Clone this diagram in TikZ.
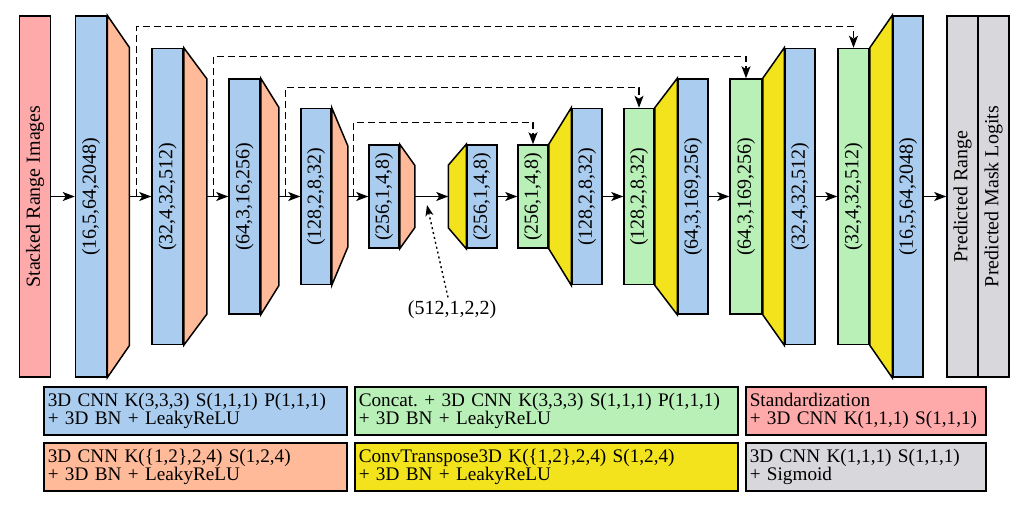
\documentclass[tikz,border=0pt]{standalone}
\usepackage{fontspec}
\setmainfont{Liberation Serif}
\usetikzlibrary{arrows.meta}
\frenchspacing

\definecolor{cblue}{HTML}{AACCEE}
\definecolor{corange}{HTML}{FFBB99}
\definecolor{cyellow}{HTML}{F2E31C}
\definecolor{cgreen}{HTML}{B8F0B8}
\definecolor{cpink}{HTML}{FFAAAA}
\definecolor{cgray}{HTML}{D8D8DC}

\tikzset{
  blk/.style={draw, line width=1.5pt, inner sep=0pt, minimum width=31pt},
  trap/.style={draw, line width=1.5pt, line join=miter},
  flow/.style={line width=1.3pt, -{Stealth[length=12pt,width=9pt,inset=3pt]}},
  skipline/.style={flow, dash pattern=on 7pt off 4pt},
  legend/.style={draw, line width=1.5pt, align=left, anchor=north west,
    inner xsep=4pt, inner ysep=3pt, minimum height=48pt,
    font=\fontsize{19.2}{18}\selectfont},
}

\begin{document}
\begin{tikzpicture}[x=1pt, y=-1pt, font=\fontsize{20}{18}\selectfont]
    \useasboundingbox (0,0) rectangle (1030,505);

    % input
    \node[blk, fill=cpink, minimum height=361pt] (in) at (35,196.5) {\rotatebox{90}{Stacked Range Images}};

    % encoder: blue block + orange down-sampling trapezoid
    \node[blk, fill=cblue, minimum height=361pt] (e1) at (91,196.5) {\rotatebox{90}{(16,5,64,2048)}};
    \draw[trap, fill=corange] (e1.north east) -- ++(22,32) -- ([shift={(22,-32)}]e1.south east) -- (e1.south east) -- cycle;
    \coordinate (t1) at ([xshift=22pt]e1.east);

    \node[blk, fill=cblue, minimum height=296pt] (e2) at (167.5,196.5) {\rotatebox{90}{(32,4,32,512)}};
    \draw[trap, fill=corange] (e2.north east) -- ++(23,31) -- ([shift={(23,-31)}]e2.south east) -- (e2.south east) -- cycle;
    \coordinate (t2) at ([xshift=23pt]e2.east);

    \node[blk, fill=cblue, minimum height=235pt] (e3) at (244.5,196.5) {\rotatebox{90}{(64,3,16,256)}};
    \draw[trap, fill=corange] (e3.north east) -- ++(18,29) -- ([shift={(18,-29)}]e3.south east) -- (e3.south east) -- cycle;
    \coordinate (t3) at ([xshift=18pt]e3.east);

    \node[blk, fill=cblue, minimum height=176pt, minimum width=30pt] (e4) at (316,196.5) {\rotatebox{90}{(128,2,8,32)}};
    \draw[trap, fill=corange] (e4.north east) -- ++(16,38) -- ([shift={(16,-38)}]e4.south east) -- (e4.south east) -- cycle;
    \coordinate (t4) at ([xshift=16pt]e4.east);

    \node[blk, fill=cblue, minimum height=103pt, minimum width=30pt] (e5) at (384,196.5) {\rotatebox{90}{(256,1,4,8)}};
    \draw[trap, fill=corange] (e5.north east) -- ++(15,21) -- ([shift={(15,-21)}]e5.south east) -- (e5.south east) -- cycle;
    \coordinate (t5) at ([xshift=15pt]e5.east);

    % decoder: yellow up-sampling trapezoid + blue block, green concat blocks
    \node[blk, fill=cblue, minimum height=103pt, minimum width=30pt] (d5) at (482,196.5) {\rotatebox{90}{(256,1,4,8)}};
    \draw[trap, fill=cyellow] (d5.north west) -- ++(-18,21) -- ([shift={(-18,-21)}]d5.south west) -- (d5.south west) -- cycle;
    \coordinate (u5) at ([xshift=-18pt]d5.west);

    \node[blk, fill=cgreen, minimum height=103pt, minimum width=30pt] (c4) at (533,196.5) {\rotatebox{90}{(256,1,4,8)}};
    \node[blk, fill=cblue, minimum height=176pt, minimum width=30pt] (d4) at (587,196.5) {\rotatebox{90}{(128,2,8,32)}};
    \draw[trap, fill=cyellow] (c4.north east) -- (d4.north west) -- (d4.south west) -- (c4.south east) -- cycle;

    \node[blk, fill=cgreen, minimum height=176pt, minimum width=30pt] (c3) at (639,196.5) {\rotatebox{90}{(128,2,8,32)}};
    \node[blk, fill=cblue, minimum height=235pt, minimum width=30pt] (d3) at (693,196.5) {\rotatebox{90}{(64,3,169,256)}};
    \draw[trap, fill=cyellow] (c3.north east) -- (d3.north west) -- (d3.south west) -- (c3.south east) -- cycle;

    \node[blk, fill=cgreen, minimum height=235pt, minimum width=32pt] (c2) at (746,196.5) {\rotatebox{90}{(64,3,169,256)}};
    \node[blk, fill=cblue, minimum height=296pt, minimum width=30pt] (d2) at (800,196.5) {\rotatebox{90}{(32,4,32,512)}};
    \draw[trap, fill=cyellow] (c2.north east) -- (d2.north west) -- (d2.south west) -- (c2.south east) -- cycle;

    \node[blk, fill=cgreen, minimum height=296pt] (c1) at (853.5,196.5) {\rotatebox{90}{(32,4,32,512)}};
    \node[blk, fill=cblue, minimum height=361pt, minimum width=30pt] (d1) at (908,196.5) {\rotatebox{90}{(16,5,64,2048)}};
    \draw[trap, fill=cyellow] (c1.north east) -- (d1.north west) -- (d1.south west) -- (c1.south east) -- cycle;

    % outputs
    \node[blk, fill=cgray, minimum height=361pt] (o1) at (962.5,196.5) {\rotatebox{90}{Predicted Range}};
    \node[blk, fill=cgray, minimum height=361pt] (o2) at (993.5,196.5) {\rotatebox{90}{Predicted Mask Logits}};

    % main flow
    \draw[flow] (in) -- (e1);
    \draw[flow] (t1) -- (e2);
    \draw[flow] (t2) -- (e3);
    \draw[flow] (t3) -- (e4);
    \draw[flow] (t4) -- (e5);
    \draw[flow] (t5) -- (u5);
    \draw[flow] (d5) -- (c4);
    \draw[flow] (d4) -- (c3);
    \draw[flow] (d3) -- (c2);
    \draw[flow] (d2) -- (c1);
    \draw[flow] (d1) -- (o1);

    % skip connections
    \coordinate (s1) at ([xshift=7pt]t1);
    \coordinate (s2) at ([xshift=7pt]t2);
    \coordinate (s3) at ([xshift=7pt]t3);
    \coordinate (s4) at ([xshift=6pt]t4);
    \draw[skipline] (s1) |- ([yshift=21pt]c1.north) -- (c1.north);
    \draw[skipline] (s2) |- ([yshift=22pt]c2.north) -- (c2.north);
    \draw[skipline] (s3) |- ([yshift=20pt]c3.north) -- (c3.north);
    \draw[skipline] (s4) |- ([yshift=22pt]c4.north) -- (c4.north);

    % bottleneck size
    \node (neck) at (452,310) {(512,1,2,2)};
    \coordinate (mid) at (427,205);
    \draw[line width=1.4pt, dash pattern=on 2pt off 3pt, -{Stealth[length=11pt,width=8pt,inset=3pt]}] ([xshift=-4pt]neck.north) -- (mid);

    % legend
    \node[legend, fill=cblue, text width=295pt] (l1) at (43,386) {3D CNN K(3,3,3) S(1,1,1) P(1,1,1)\\+ 3D BN + LeakyReLU};
    \node[legend, fill=cgreen, text width=375pt] (l2) at (354,386) {Concat. + 3D CNN K(3,3,3) S(1,1,1) P(1,1,1)\\+ 3D BN + LeakyReLU};
    \node[legend, fill=cpink, text width=232pt] (l3) at (745,386) {Standardization\\+ 3D CNN K(1,1,1) S(1,1,1)};
    \node[legend, fill=corange, text width=295pt] (l4) at (43,442) {3D CNN K(\{1,2\},2,4) S(1,2,4)\\+ 3D BN + LeakyReLU};
    \node[legend, fill=cyellow, text width=375pt] (l5) at (354,442) {ConvTranspose3D K(\{1,2\},2,4) S(1,2,4)\\+ 3D BN + LeakyReLU};
    \node[legend, fill=cgray, text width=232pt] (l6) at (745,442) {3D CNN K(1,1,1) S(1,1,1)\\+ Sigmoid};

\end{tikzpicture}
\end{document}
